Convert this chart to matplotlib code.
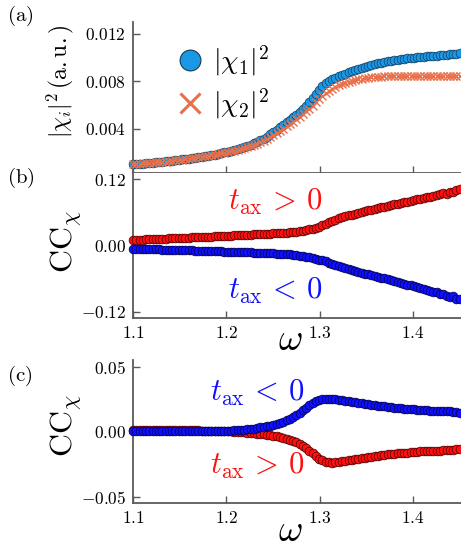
"""
Three stacked panels: |chi_i|^2 and the chirality contrast CC_chi vs omega
"""

import numpy as np
import matplotlib
matplotlib.use("Agg")
import matplotlib.pyplot as plt
from matplotlib.lines import Line2D

plt.rcParams['mathtext.fontset'] = 'cm'
plt.rcParams['font.family'] = 'serif'
plt.rcParams['font.serif'] = ['cmr10', 'DejaVu Serif']
plt.rcParams['axes.formatter.use_mathtext'] = True

# frequency grid (step 0.0035)
omega = np.linspace(1.1, 1.45, 101)

# panel (a), values in units of 1e-3
chi1_sq = [
    1.00, 1.02, 1.04, 1.06, 1.09, 1.11, 1.13, 1.16, 1.18, 1.21,
    1.24, 1.27, 1.30, 1.33, 1.36, 1.40, 1.43, 1.47, 1.51, 1.55,
    1.59, 1.63, 1.68, 1.72, 1.77, 1.82, 1.88, 1.94, 2.00, 2.05,
    2.11, 2.18, 2.25, 2.33, 2.42, 2.52, 2.63, 2.75, 2.88, 3.01,
    3.15, 3.32, 3.52, 3.72, 3.92, 4.12, 4.32, 4.53, 4.74, 4.95,
    5.16, 5.38, 5.62, 5.90, 6.22, 6.56, 6.92, 7.28, 7.58, 7.83,
    8.02, 8.16, 8.29, 8.41, 8.53, 8.64, 8.75, 8.86, 8.96, 9.05,
    9.14, 9.22, 9.30, 9.37, 9.44, 9.50, 9.56, 9.62, 9.67, 9.72,
    9.77, 9.81, 9.85, 9.89, 9.93, 9.97, 10.00, 10.03, 10.06, 10.08,
    10.10, 10.12, 10.14, 10.16, 10.18, 10.21, 10.24, 10.27, 10.30, 10.33,
    10.36,
]
chi2_sq = [
    1.01, 1.03, 1.05, 1.07, 1.09, 1.11, 1.13, 1.15, 1.18, 1.20,
    1.23, 1.26, 1.29, 1.32, 1.35, 1.39, 1.42, 1.46, 1.50, 1.54,
    1.58, 1.62, 1.66, 1.71, 1.75, 1.80, 1.86, 1.91, 1.97, 2.02,
    2.08, 2.14, 2.21, 2.28, 2.36, 2.44, 2.53, 2.63, 2.74, 2.86,
    2.98, 3.12, 3.28, 3.45, 3.63, 3.82, 4.01, 4.20, 4.40, 4.60,
    4.80, 5.01, 5.23, 5.46, 5.70, 5.95, 6.21, 6.48, 6.74, 6.98,
    7.18, 7.36, 7.52, 7.66, 7.78, 7.88, 7.97, 8.05, 8.11, 8.17,
    8.22, 8.26, 8.30, 8.33, 8.36, 8.38, 8.40, 8.42, 8.43, 8.44,
    8.45, 8.46, 8.46, 8.47, 8.47, 8.47, 8.48, 8.48, 8.48, 8.48,
    8.48, 8.48, 8.48, 8.47, 8.47, 8.47, 8.47, 8.46, 8.46, 8.46,
    8.46,
]

# panel (b), values in units of 1e-3
cc_b_pos = [
    10.2, 10.4, 10.6, 10.8, 11.0, 11.3, 11.5, 11.7, 12.0, 12.2,
    12.4, 12.7, 12.9, 13.2, 13.4, 13.7, 13.9, 14.2, 14.5, 14.7,
    15.0, 15.3, 15.5, 15.8, 16.1, 16.4, 16.7, 17.0, 17.3, 17.6,
    17.9, 18.2, 18.5, 18.8, 19.1, 19.4, 19.7, 20.0, 20.3, 20.6,
    20.9, 21.2, 21.5, 21.8, 22.1, 22.5, 22.9, 23.4, 23.9, 24.5,
    25.2, 26.0, 26.9, 28.0, 29.2, 30.6, 32.1, 33.7, 36.3, 39.0,
    41.7, 44.3, 46.7, 48.9, 50.8, 52.6, 54.3, 55.9, 57.5, 59.0,
    60.5, 62.0, 63.4, 64.8, 66.2, 67.6, 69.0, 70.3, 71.6, 72.9,
    74.2, 75.5, 76.8, 78.1, 79.4, 80.7, 82.0, 83.3, 84.6, 85.9,
    87.2, 88.5, 89.8, 91.0, 92.5, 94.8, 93.5, 97.5, 96.0, 99.5,
    101.5,
]
cc_b_neg = [
    -5.5, -5.7, -5.9, -6.1, -6.3, -6.5, -6.7, -6.9, -7.1, -7.3,
    -7.5, -7.7, -7.9, -8.1, -8.3, -8.5, -8.7, -8.9, -9.0, -9.2,
    -9.4, -9.6, -9.8, -10.0, -10.2, -10.4, -10.6, -10.8, -11.0, -11.2,
    -11.4, -11.6, -11.8, -12.0, -12.2, -12.4, -12.6, -12.8, -13.0, -13.2,
    -13.4, -13.6, -13.9, -14.2, -14.5, -14.8, -15.2, -15.6, -16.1, -16.7,
    -17.4, -18.3, -19.3, -20.4, -21.6, -22.8, -24.0, -25.3, -27.0, -28.9,
    -30.9, -32.9, -34.9, -36.9, -38.8, -40.6, -42.4, -44.1, -45.8, -47.5,
    -49.1, -50.7, -52.2, -53.7, -55.2, -56.7, -58.1, -59.5, -60.9, -62.5,
    -64.1, -65.7, -67.3, -68.9, -70.5, -72.1, -73.7, -75.3, -76.9, -78.5,
    -80.1, -81.7, -83.3, -84.9, -88.5, -87.8, -91.0, -93.5, -92.0, -96.0,
    -97.5,
]

# panel (c), values in units of 1e-3
cc_c_neg = [
    0.3, 0.3, 0.3, 0.3, 0.3, 0.3, 0.3, 0.3, 0.3, 0.3,
    0.3, 0.3, 0.3, 0.3, 0.3, 0.3, 0.3, 0.3, 0.4, 0.4,
    0.4, 0.4, 0.4, 0.5, 0.5, 0.5, 0.6, 0.6, 0.7, 0.8,
    0.9, 1.0, 1.2, 1.4, 1.6, 1.9, 2.2, 2.5, 2.9, 3.3,
    3.8, 4.3, 4.8, 5.4, 6.1, 6.9, 7.8, 8.8, 10.0, 11.4,
    13.0, 14.7, 16.5, 18.4, 20.2, 21.9, 23.3, 24.4, 25.1, 25.5,
    25.5, 25.3, 25.0, 24.6, 24.2, 23.8, 23.4, 23.0, 22.6, 22.2,
    21.8, 21.4, 21.0, 20.7, 20.4, 20.1, 19.8, 19.5, 19.2, 18.9,
    18.6, 18.3, 18.0, 17.8, 17.6, 17.4, 17.2, 17.0, 16.8, 16.6,
    16.4, 16.3, 16.2, 16.1, 16.0, 15.9, 15.8, 15.7, 15.5, 15.2,
    14.5,
]
cc_c_pos = [
    1.2, 1.2, 1.2, 1.2, 1.2, 1.2, 1.2, 1.2, 1.2, 1.2,
    1.1, 1.1, 1.1, 1.1, 1.1, 1.1, 1.1, 1.0, 1.0, 1.0,
    1.0, 0.9, 0.9, 0.9, 0.8, 0.8, 0.7, 0.6, 0.5, 0.4,
    0.3, 0.1, -0.1, -0.3, -0.5, -0.7, -0.9, -1.1, -1.4, -1.7,
    -2.0, -2.3, -2.7, -3.1, -3.6, -4.1, -4.7, -5.4, -6.2, -7.1,
    -8.2, -9.5, -11.0, -12.7, -14.6, -16.6, -18.6, -20.5, -22.0, -23.0,
    -23.5, -23.6, -23.4, -23.1, -22.7, -22.3, -21.9, -21.5, -21.1, -20.7,
    -20.3, -19.9, -19.5, -19.1, -18.7, -18.3, -18.0, -17.7, -17.4, -17.1,
    -16.8, -16.5, -16.3, -16.1, -15.9, -15.7, -15.5, -15.3, -15.1, -14.9,
    -14.8, -14.7, -14.6, -14.5, -14.4, -14.3, -14.1, -13.9, -13.7, -13.5,
    -13.2,
]

x_ticks = [1.1, 1.2, 1.3, 1.4]
x_ticklabels = ['1.1', '1.2', '1.3', '1.4']
ya_ticks = [0.004, 0.008, 0.012]
ya_ticklabels = ['0.004', '0.008', '0.012']
yb_ticks = [-0.12, 0.0, 0.12]
yb_ticklabels = ['-0.12', '0.00', '0.12']
yc_ticks = [-0.05, 0.0, 0.05]
yc_ticklabels = ['-0.05', '0.00', '0.05']

SPINE = '#5a5a5a'
BLUE_A = '#1a98e6'
ORANGE_A = '#e8704a'
RED = '#ff1010'
BLUE = '#1010ff'

TAX_POS = r'$t_\mathrm{ax}\,>\,0$'
TAX_NEG = r'$t_\mathrm{ax}\,<\,0$'


def style_axes(ax, yticks, ylabels, show_xlabels):
    for side in ['top', 'right']:
        ax.spines[side].set_visible(False)
    for side in ['left', 'bottom']:
        ax.spines[side].set_color(SPINE)
        ax.spines[side].set_linewidth(1.3)
    ax.set_xlim(1.1, 1.4515)
    ax.set_xticks(x_ticks)
    if show_xlabels:
        ax.set_xticklabels(['$%s$' % s for s in x_ticklabels])
    else:
        ax.set_xticklabels([])
    ax.set_yticks(yticks)
    ax.set_yticklabels(['$%s$' % s for s in ylabels])
    ax.tick_params(direction='in', length=5, width=1.0, color=SPINE,
                   labelsize=12.5, pad=5)


fig = plt.figure(figsize=(4.61, 5.48), dpi=100)
ax_a = fig.add_axes([0.2885, 0.6843, 0.7115, 0.2756])
ax_b = fig.add_axes([0.2885, 0.4197, 0.7115, 0.2646])
ax_c = fig.add_axes([0.2885, 0.0821, 0.7115, 0.2609])

# panel (a)
scale = 1e-3
ax_a.plot(omega, np.array(chi1_sq) * scale, 'o', ms=6.3, mfc=BLUE_A,
          mec='#123a5a', mew=0.5, clip_on=False, zorder=3)
ax_a.plot(omega, np.array(chi2_sq) * scale, 'x', ms=5.5, mec=ORANGE_A,
          mew=1.0, clip_on=False, zorder=4)
ax_a.set_ylim(0.00026, 0.013)
style_axes(ax_a, ya_ticks, ya_ticklabels, False)
ax_a.set_ylabel(r'$|\chi_i|^2\,\mathrm{(a.u.)}$', fontsize=17)
ax_a.yaxis.set_label_coords(-0.175, 0.61)

handles = [
    Line2D([], [], ls='none', marker='o', ms=15, mfc=BLUE_A, mec='#123a5a', mew=0.8),
    Line2D([], [], ls='none', marker='x', ms=14, mec=ORANGE_A, mew=2.2),
]
ax_a.legend(handles, [r'$|\chi_1|^2$', r'$|\chi_2|^2$'], loc='upper left',
            bbox_to_anchor=(0.09, 0.95), frameon=False, fontsize=20,
            handlelength=1.0, handletextpad=0.3, labelspacing=0.3,
            borderpad=0.0)

# panel (b)
ax_b.plot(omega, np.array(cc_b_pos) * scale, 'o', ms=6.3, mfc=RED,
          mec='#400000', mew=0.5, clip_on=False, zorder=3)
ax_b.plot(omega, np.array(cc_b_neg) * scale, 'o', ms=6.3, mfc=BLUE,
          mec='#000040', mew=0.5, clip_on=False, zorder=3)
ax_b.set_ylim(-0.131, 0.131)
style_axes(ax_b, yb_ticks, yb_ticklabels, True)
ax_b.set_ylabel(r'$\mathrm{CC}_\chi$', fontsize=23)
ax_b.yaxis.set_label_coords(-0.15, 0.53)
ax_b.set_xlabel(r'$\omega$', fontsize=27)
ax_b.xaxis.set_label_coords(0.479, -0.04)
ax_b.text(0.435, 0.80, TAX_POS, color=RED, fontsize=22,
          ha='center', va='center', transform=ax_b.transAxes)
ax_b.text(0.435, 0.19, TAX_NEG, color=BLUE, fontsize=22,
          ha='center', va='center', transform=ax_b.transAxes)

# panel (c)
ax_c.plot(omega, np.array(cc_c_pos) * scale, 'o', ms=6.3, mfc=RED,
          mec='#400000', mew=0.5, clip_on=False, zorder=3)
ax_c.plot(omega, np.array(cc_c_neg) * scale, 'o', ms=6.3, mfc=BLUE,
          mec='#000040', mew=0.5, clip_on=False, zorder=4)
ax_c.set_ylim(-0.0546, 0.055)
style_axes(ax_c, yc_ticks, yc_ticklabels, True)
ax_c.set_ylabel(r'$\mathrm{CC}_\chi$', fontsize=23)
ax_c.yaxis.set_label_coords(-0.15, 0.545)
ax_c.set_xlabel(r'$\omega$', fontsize=27)
ax_c.xaxis.set_label_coords(0.479, -0.085)
ax_c.text(0.38, 0.77, TAX_NEG, color=BLUE, fontsize=22,
          ha='center', va='center', transform=ax_c.transAxes)
ax_c.text(0.38, 0.26, TAX_POS, color=RED, fontsize=22,
          ha='center', va='center', transform=ax_c.transAxes)

# panel letters
for label, ypix in [('(a)', 16), ('(b)', 178), ('(c)', 376)]:
    fig.text(7 / 461, 1 - ypix / 548, r'$\mathrm{%s}$' % label,
             fontsize=15, ha='left', va='center')

fig.savefig('out.png', dpi=100)
